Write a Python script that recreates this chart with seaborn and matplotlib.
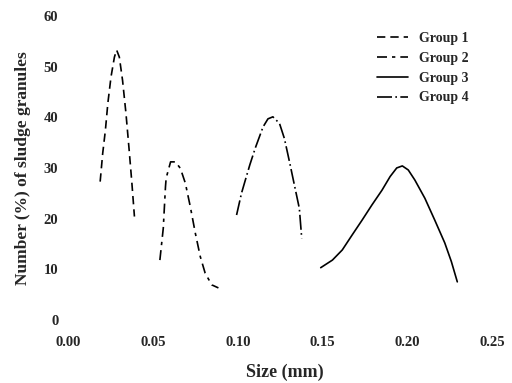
import matplotlib
matplotlib.use("Agg")
import matplotlib.pyplot as plt
import seaborn as sns
import pandas as pd

# Data
g1_x = [0.0189, 0.0204, 0.0220, 0.0234, 0.0253, 0.0273, 0.0286, 0.0302, 0.0321, 0.0341, 0.0360, 0.0376, 0.0391]
g1_y = [27.3, 32.9, 37.5, 42.7, 48.0, 51.9, 53.3, 51.9, 47.3, 40.8, 33.5, 27.0, 20.4]

g2_x = [0.0541, 0.0561, 0.0574, 0.0578, 0.0604, 0.0633, 0.0662, 0.0691, 0.0720, 0.0750, 0.0779, 0.0808, 0.0847, 0.0886]
g2_y = [11.8, 18.1, 26.3, 28.0, 31.2, 31.2, 29.9, 27.0, 22.4, 17.1, 12.5, 9.2, 6.9, 6.3]

g3_x = [0.1489, 0.1558, 0.1616, 0.1675, 0.1733, 0.1791, 0.1850, 0.1898, 0.1937, 0.1970,
        0.2005, 0.2044, 0.2103, 0.2161, 0.2220, 0.2259, 0.2294]
g3_y = [10.3, 11.8, 13.8, 16.8, 19.7, 22.7, 25.6, 28.3, 30.0, 30.4,
        29.6, 27.6, 24.0, 19.7, 15.2, 11.5, 7.5]

g4_x = [0.0993, 0.1022, 0.1042, 0.1071, 0.1104, 0.1149, 0.1178, 0.1207, 0.1246, 0.1275, 0.1305, 0.1334, 0.1363, 0.1377]
g4_y = [20.7, 25.0, 27.3, 30.6, 34.0, 38.1, 39.7, 40.1, 38.8, 35.8, 31.2, 26.6, 22.0, 16.1]

groups = ["Group 1", "Group 2", "Group 3", "Group 4"]
x_ticks = [0.00, 0.05, 0.10, 0.15, 0.20, 0.25]
y_ticks = [0, 10, 20, 30, 40, 50, 60]

frames = []
for name, xs, ys in zip(groups, [g1_x, g2_x, g3_x, g4_x], [g1_y, g2_y, g3_y, g4_y]):
    frames.append(pd.DataFrame({"x": xs, "y": ys, "group": name}))
df = pd.concat(frames, ignore_index=True)

sns.set_theme(style="white")
plt.rcParams["font.family"] = ["Liberation Serif", "DejaVu Serif"]
plt.rcParams["font.weight"] = "bold"

fig = plt.figure(figsize=(5.12, 3.83), dpi=100)
ax = fig.add_axes([0.133, 0.165, 0.845, 0.793])

dashes = {
    "Group 1": (5, 3),
    "Group 2": (6, 3, 2, 3),
    "Group 3": "",
    "Group 4": (9, 2, 1, 2),
}
sns.lineplot(data=df, x="x", y="y", hue="group", style="group",
             palette=["black"] * 4, dashes=dashes, sort=False,
             estimator=None, linewidth=1.2, ax=ax)

ax.set_xlim(0.0, 0.255)
ax.set_ylim(0, 60)
ax.set_xticks(x_ticks)
ax.set_xticklabels([f"{v:.2f}" for v in x_ticks])
ax.set_yticks(y_ticks)
ax.set_yticklabels([str(v) for v in y_ticks])
for s in ax.spines.values():
    s.set_visible(False)
ax.tick_params(axis="both", length=0, labelsize=10.5)
ax.tick_params(axis="x", pad=12)
ax.tick_params(axis="y", pad=7)
for lbl in ax.get_xticklabels() + ax.get_yticklabels():
    lbl.set_fontweight("bold")

ax.set_xlabel("Size (mm)", fontsize=13, fontweight="bold", labelpad=10)
ax.set_ylabel("Number (%) of sludge granules", fontsize=12.5, fontweight="bold", labelpad=9)

leg = ax.legend(title=None, loc="upper right", bbox_to_anchor=(0.955, 0.99),
                frameon=False, handlelength=2.2,
                prop={"weight": "bold", "size": 10}, labelspacing=0.5)

fig.savefig("out.png", dpi=100)
